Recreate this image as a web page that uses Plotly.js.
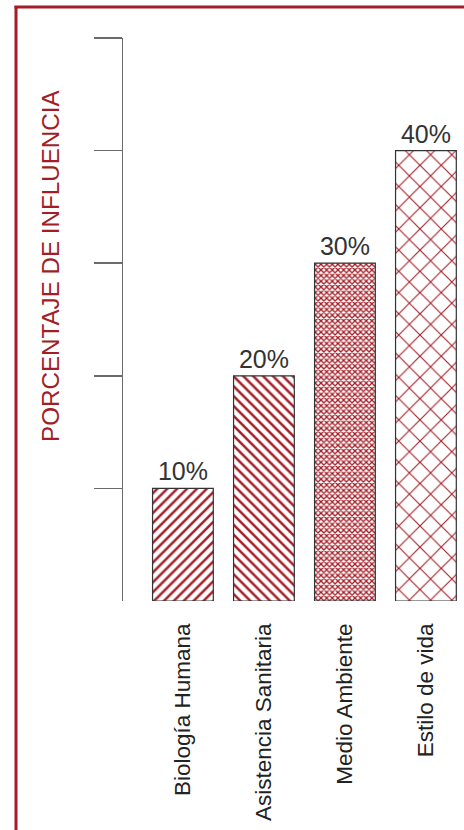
<!DOCTYPE html>
<html>
<head>
<meta charset="utf-8">
<script src="https://cdn.plot.ly/plotly-3.0.1.min.js"></script>
<style>html,body{margin:0;padding:0;background:#fff;}#chart{width:464px;height:830px;}</style>
</head>
<body>
<div id="chart"></div>
<script>
const categories = ["Biología Humana", "Asistencia Sanitaria", "Medio Ambiente", "Estilo de vida"];
const values = [10, 20, 30, 40];
const yTickValues = [10, 20, 30, 40, 50];
const yTitle = "PORCENTAJE DE INFLUENCIA";

const RED = "#a31d26";
const W = 464, H = 830, L = 123, T = 38, B = 229, R = 0;
const pw = W - L - R, ph = H - T - B;
const px = x => (x - L) / pw;
const py = y => (H - B - y) / ph;

const trace = {
  type: "bar",
  x: categories,
  y: values,
  texttemplate: "%{y}%",
  textposition: "outside",
  cliponaxis: false,
  textfont: {family: "Liberation Sans, Arial, sans-serif", size: 25, color: "#333"},
  marker: {
    color: "#ffffff",
    line: {color: "#333", width: 1.2},
    pattern: {
      shape: ["/", "\\", "x", "x"],
      size: [7, 7, 4, 15],
      solidity: [0.36, 0.36, 0.55, 0.14],
      fgcolor: RED,
      fgopacity: 1,
      bgcolor: "#ffffff",
      fillmode: "replace"
    }
  },
  hoverinfo: "skip"
};

const layout = {
  width: W, height: H,
  margin: {l: L, r: R, t: T, b: B},
  paper_bgcolor: "#fff", plot_bgcolor: "#fff",
  showlegend: false,
  bargap: 0.25,
  font: {family: "Liberation Sans, Arial, sans-serif"},
  xaxis: {
    range: [-0.74, 3.47],
    showline: false, showgrid: false, zeroline: false,
    ticks: "", tickangle: -90,
    tickfont: {size: 22.5, color: "#222"},
    ticklabelstandoff: 17
  },
  yaxis: {
    range: [0, 50],
    showline: true, linecolor: "#6b6b6b", linewidth: 1.5,
    showgrid: false, zeroline: false,
    ticks: "outside", ticklen: 28, tickwidth: 1.5, tickcolor: "#6b6b6b",
    tickvals: yTickValues, showticklabels: false
  },
  annotations: [{
    text: yTitle, xref: "paper", yref: "paper",
    x: px(50), y: py(266), xanchor: "center", yanchor: "middle",
    textangle: -90, showarrow: false,
    font: {size: 24.2, color: RED, family: "Liberation Sans, Arial, sans-serif"}
  }],
  shapes: [
    {type: "line", xref: "paper", yref: "paper", x0: px(16), x1: px(16), y0: py(6), y1: py(840), line: {color: RED, width: 3}},
    {type: "line", xref: "paper", yref: "paper", x0: px(14.5), x1: px(470), y0: py(7), y1: py(7), line: {color: RED, width: 3}}
  ]
};

Plotly.newPlot("chart", [trace], layout, {displayModeBar: false, staticPlot: true});
</script>
</body>
</html>
